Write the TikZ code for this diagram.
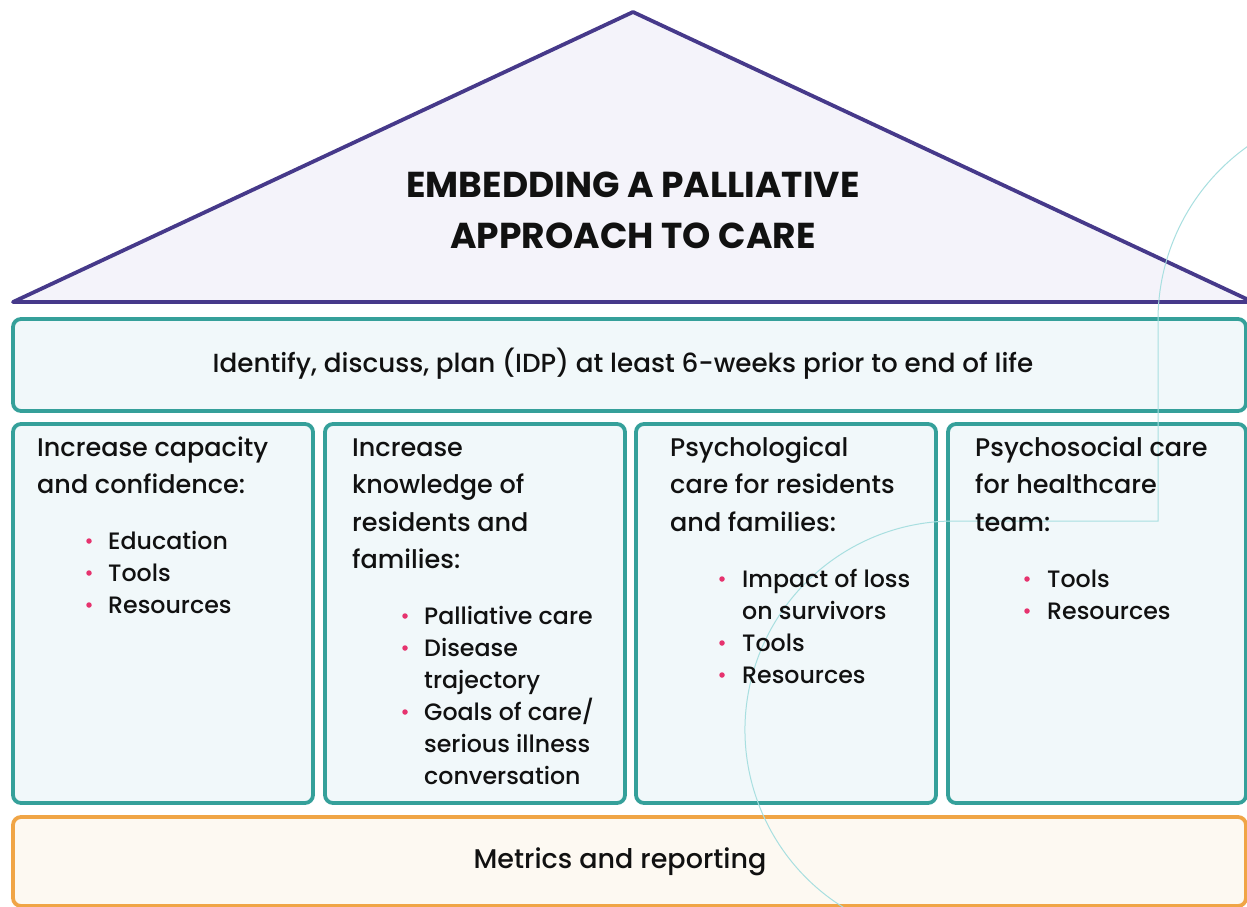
\documentclass[tikz,border=0pt]{standalone}
\usepackage{fontspec}
\setmainfont{Poppins}
\newfontfamily\bodyfont{Poppins Medium}
\definecolor{roofc}{HTML}{46398A}
\definecolor{rooffill}{HTML}{F4F3FA}
\definecolor{tealc}{HTML}{35A09A}
\definecolor{tealfill}{HTML}{F1F8FA}
\definecolor{orangec}{HTML}{F0A546}
\definecolor{orangefill}{HTML}{FDF9F2}
\definecolor{thinc}{HTML}{A8DFE0}
\definecolor{dotc}{HTML}{E6336E}
\definecolor{inkc}{HTML}{111111}
\begin{document}
\begin{tikzpicture}[x=1pt,y=-1pt,
  roof/.style={draw=roofc, fill=rooffill, line width=3.8pt, line join=round},
  tealbox/.style={draw=tealc, fill=tealfill, line width=3.8pt, rounded corners=8pt,
    anchor=north west, inner sep=0pt, outer sep=0pt},
  orangebox/.style={tealbox, draw=orangec, fill=orangefill},
  deco/.style={draw=thinc, line width=1pt},
  txt/.style={inner sep=0pt, text=inkc, font=\bodyfont\fontsize{23.7}{30}\selectfont},
  bigtxt/.style={txt, anchor=base, font=\bodyfont\fontsize{27}{32}\selectfont},
  hd/.style={txt, anchor=base west, font=\bodyfont\fontsize{25.5}{30}\selectfont},
  bl/.style={txt, anchor=base west},
  ttl/.style={inner sep=0pt, text=inkc, anchor=base, font=\fontsize{36}{40}\selectfont\bfseries},
  bdot/.style={circle, fill=dotc, inner sep=0pt, minimum size=5.5pt},
]
\useasboundingbox[fill=white] (0,0) rectangle (1247,907);

% roof
\coordinate (rl) at (13,302);
\coordinate (ra) at (633,12);
\coordinate (rr) at (1253,302);
\draw[roof] (rl) -- (ra) -- (rr) -- cycle;
\node[ttl] (t1) at (633,197) {EMBEDDING A PALLIATIVE};
\node[ttl] (t2) at (633,248) {APPROACH TO CARE};

% beam, four pillars, foundation
\node[tealbox, minimum width=1233pt, minimum height=92pt] (idp) at (13,319) {};
\node[tealbox, minimum width=300pt, minimum height=379pt] (p1) at (13,424) {};
\node[tealbox, minimum width=300pt, minimum height=379pt] (p2) at (325,424) {};
\node[tealbox, minimum width=300pt, minimum height=379pt] (p3) at (636,424) {};
\node[tealbox, minimum width=298pt, minimum height=379pt] (p4) at (948,424) {};
\node[orangebox, minimum width=1233pt, minimum height=89pt] (met) at (13,817) {};

% thin decorative line
\draw[deco] ([shift={(110:209)}]954,730) arc[start angle=110, end angle=270, radius=209]
  -- (1158,521) -- (1158,320) arc[start angle=180, end angle=250, radius=213];

% texts
\node[bigtxt, font=\bodyfont\fontsize{26.2}{32}\selectfont] (idptxt) at (623,372) {Identify, discuss, plan (IDP) at least 6-weeks prior to end of life};
\node[bigtxt] (mettxt) at (620,868) {Metrics and reporting};

\foreach \t [count=\i] in {Increase capacity, and confidence:}
  \node[hd] (h1-\i) at (37,{456+37.5*(\i-1)}) {\t};
\foreach \t [count=\i] in {Increase, knowledge of, residents and, families:}
  \node[hd] (h2-\i) at (352,{456+37.5*(\i-1)}) {\t};
\foreach \t [count=\i] in {Psychological, care for residents, and families:}
  \node[hd] (h3-\i) at (670,{456+37.5*(\i-1)}) {\t};
\foreach \t [count=\i] in {Psychosocial care, for healthcare, team:}
  \node[hd] (h4-\i) at (975,{456+37.5*(\i-1)}) {\t};

% bullet lines
\foreach \t [count=\i] in {Education, Tools, Resources}
  \node[bl] (b1-\i) at (108,{549+32*(\i-1)}) {\t};
\foreach \t [count=\i] in {Palliative care, Disease, trajectory, Goals of care/, serious illness, conversation}
  \node[bl] (b2-\i) at (424,{624+32*(\i-1)}) {\t};
\foreach \t [count=\i] in {Impact of loss, on survivors, Tools, Resources}
  \node[bl] (b3-\i) at (742,{587+32*(\i-1)}) {\t};
\foreach \t [count=\i] in {Tools, Resources}
  \node[bl] (b4-\i) at (1047,{587+32*(\i-1)}) {\t};

% bullet dots
\foreach \i in {1,2,3} \node[bdot] (d1-\i) at (89,{541+32*(\i-1)}) {};
\foreach \i in {1,2,4} \node[bdot] (d2-\i) at (405,{616+32*(\i-1)}) {};
\foreach \i in {1,3,4} \node[bdot] (d3-\i) at (722,{579+32*(\i-1)}) {};
\foreach \i in {1,2} \node[bdot] (d4-\i) at (1027,{579+32*(\i-1)}) {};
\end{tikzpicture}
\end{document}
